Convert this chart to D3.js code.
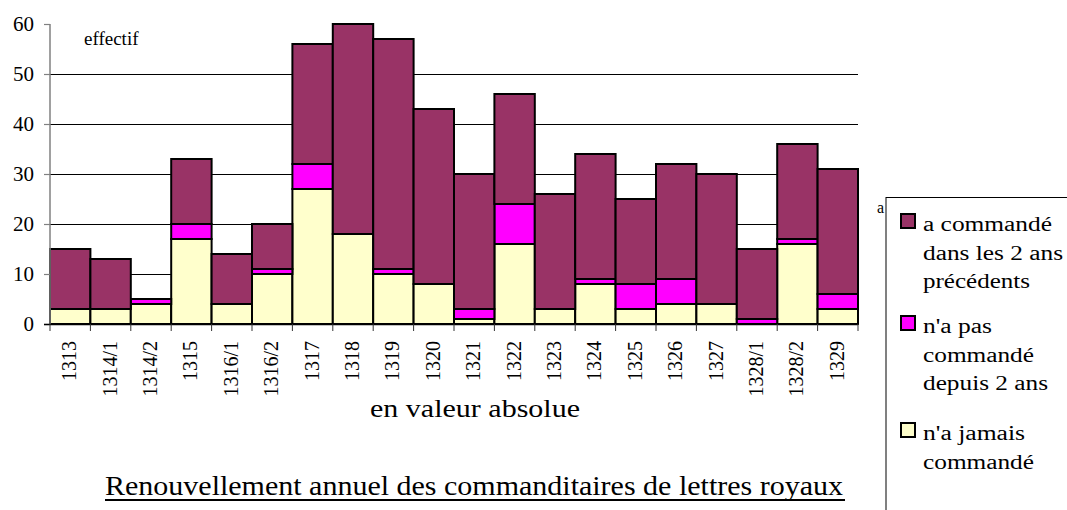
<!DOCTYPE html>
<html>
<head>
<meta charset="utf-8">
<title>Renouvellement annuel des commanditaires de lettres royaux</title>
<script src="https://cdn.jsdelivr.net/npm/d3@7"></script>
</head>
<body style="margin:0">
<script>
// ---- data ----
const categories = ["1313","1314/1","1314/2","1315","1316/1","1316/2","1317","1318","1319","1320","1321","1322","1323","1324","1325","1326","1327","1328/1","1328/2","1329"];
const jamais     = [3,3,4,17,4,10,27,18,10,8,1,16,3,8,3,4,4,0,16,3];
const pasDepuis  = [0,0,1,3,0,1,5,0,1,0,2,8,0,1,5,5,0,1,1,3];
const aCommande  = [12,10,0,13,10,9,24,42,46,35,27,22,23,25,17,23,26,14,19,25];
const yTicks = [0,10,20,30,40,50,60];

const colors = {aCommande:"#993366", pasDepuis:"#ff00ff", jamais:"#ffffcc"};
const SERIF = "Liberation Serif";

const svg = d3.select("body").append("svg").attr("width",1067).attr("height",510);
svg.append("rect").attr("width",1067).attr("height",510).attr("fill","#ffffff");

const x = d3.scaleBand().domain(categories).range([50,858]).padding(0);
const y = d3.scaleLinear().domain([0,60]).range([324,24]);

svg.append("g").selectAll("line").data(yTicks.filter(t=>t>0&&t<60)).join("line")
  .attr("x1",50).attr("x2",858).attr("y1",d=>y(d)+0.5).attr("y2",d=>y(d)+0.5)
  .attr("stroke","#000").attr("stroke-width",1);

const rows = categories.map((c,i)=>({cat:c, jamais:jamais[i], pasDepuis:pasDepuis[i], aCommande:aCommande[i]}));
const layers = d3.stack().keys(["jamais","pasDepuis","aCommande"])(rows);
svg.append("g").selectAll("g").data(layers).join("g")
  .attr("fill",d=>colors[d.key])
  .selectAll("rect").data(d=>d).join("rect")
  .attr("x",d=>x(d.data.cat)).attr("width",x.bandwidth())
  .attr("y",d=>y(d[1])).attr("height",d=>y(d[0])-y(d[1]))
  .attr("stroke","#000").attr("stroke-width",2);

// y axis (manual tick labels in serif)
svg.append("line").attr("x1",50).attr("x2",50).attr("y1",24).attr("y2",324).attr("stroke","#808080").attr("stroke-width",1.5);
svg.append("g").selectAll("line").data(yTicks).join("line")
  .attr("x1",44).attr("x2",50).attr("y1",d=>y(d)+0.5).attr("y2",d=>y(d)+0.5).attr("stroke","#808080").attr("stroke-width",1.2);
svg.append("g").selectAll("text").data(yTicks).join("text")
  .attr("x",34).attr("y",d=>y(d)+7).attr("text-anchor","end")
  .attr("font-family",SERIF).attr("font-size",21).attr("fill","#000").text(d=>d);

// x axis
svg.append("line").attr("x1",44).attr("x2",858).attr("y1",324.5).attr("y2",324.5).attr("stroke","#000").attr("stroke-width",1.5);
svg.append("g").selectAll("line").data(categories.map(c=>x(c)).concat([858])).join("line")
  .attr("x1",d=>d).attr("x2",d=>d).attr("y1",324).attr("y2",331).attr("stroke","#333").attr("stroke-width",1);
svg.append("g").selectAll("text").data(categories).join("text")
  .attr("transform",d=>`translate(${x(d)+x.bandwidth()/2+6},341) rotate(-90)`)
  .attr("text-anchor","end").attr("font-family",SERIF).attr("font-size",20).attr("fill","#000").text(d=>d);

// titles
svg.append("text").attr("x",84).attr("y",45).attr("font-family",SERIF).attr("font-size",19).attr("fill","#000").text("effectif");
svg.append("text").attr("x",370).attr("y",417).attr("font-family",SERIF).attr("font-size",25).attr("fill","#000")
  .attr("textLength",210).attr("lengthAdjust","spacingAndGlyphs").text("en valeur absolue");
svg.append("text").attr("x",105).attr("y",495).attr("font-family",SERIF).attr("font-size",27).attr("fill","#000")
  .attr("textLength",738).attr("lengthAdjust","spacingAndGlyphs").text("Renouvellement annuel des commanditaires de lettres royaux");
svg.append("line").attr("x1",105).attr("x2",845).attr("y1",500).attr("y2",500).attr("stroke","#000").attr("stroke-width",2);

// legend
svg.append("line").attr("x1",886).attr("x2",886).attr("y1",197).attr("y2",510).attr("stroke","#808080").attr("stroke-width",2);
svg.append("line").attr("x1",886).attr("x2",1067).attr("y1",197.5).attr("y2",197.5).attr("stroke","#000").attr("stroke-width",1);
svg.append("text").attr("x",877).attr("y",213).attr("font-family",SERIF).attr("font-size",16).attr("fill","#000").text("a");
const legend = [
  {key:"aCommande", lines:[["a commandé",129],["dans les 2 ans",140],["précédents",107]], base:231},
  {key:"pasDepuis", lines:[["n'a pas",69],["commandé",111],["depuis 2 ans",125]], base:333},
  {key:"jamais", lines:[["n'a jamais",102],["commandé",111]], base:440}
];
legend.forEach(d=>{
  svg.append("rect").attr("x",901).attr("y",d.base-17).attr("width",14).attr("height",14)
    .attr("fill",colors[d.key]).attr("stroke","#000").attr("stroke-width",2);
  svg.append("g").selectAll("text").data(d.lines).join("text")
    .attr("x",923).attr("y",(l,i)=>d.base+i*28.5)
    .attr("font-family",SERIF).attr("font-size",20).attr("fill","#000")
    .attr("textLength",l=>l[1]).attr("lengthAdjust","spacingAndGlyphs").text(l=>l[0]);
});
</script>
</body>
</html>
